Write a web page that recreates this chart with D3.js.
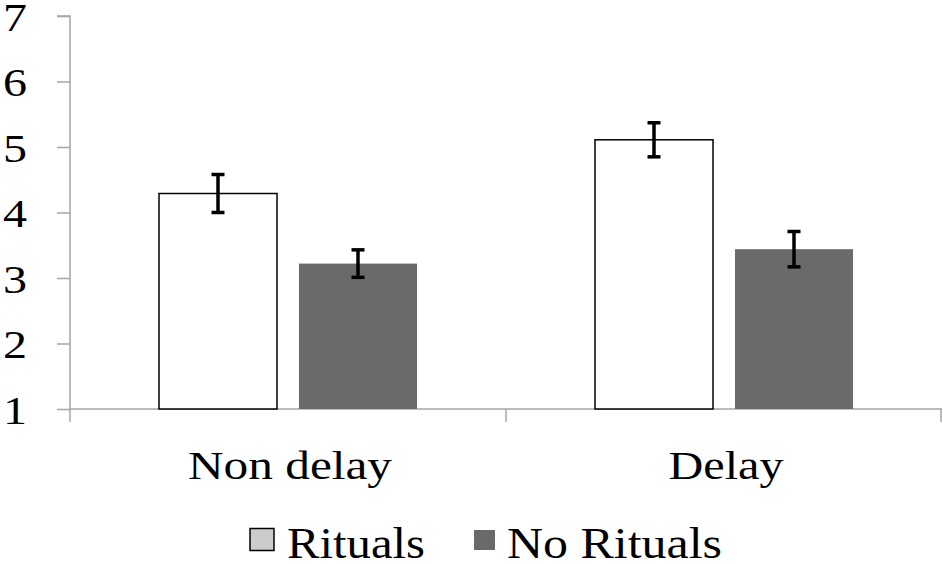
<!DOCTYPE html>
<html>
<head>
<meta charset="utf-8">
<script src="https://cdn.jsdelivr.net/npm/d3@7"></script>
<style>
  body { margin: 0; background: #fff; }
  svg text { font-family: "Liberation Serif"; fill: #000; }
</style>
</head>
<body>
<div id="chart"></div>
<script>
// data
const categories = ["Non delay", "Delay"];
const series = ["Rituals", "No Rituals"];
const ritualsMeans = [4.29, 5.11];
const ritualsErr = [0.29, 0.26];
const noRitualsMeans = [3.22, 3.44];
const noRitualsErr = [0.21, 0.27];
const yTicks = [1, 2, 3, 4, 5, 6, 7];

const seriesFill = {"Rituals": "#ffffff", "No Rituals": "#6a6a6a"};
const legendFill = {"Rituals": "#cccccc", "No Rituals": "#6a6a6a"};

const W = 943, H = 564;
const svg = d3.select("#chart").append("svg")
    .attr("width", W)
    .attr("height", H);

// scales
const y = d3.scaleLinear().domain([1, 7]).range([409, 16]);
const x0 = d3.scaleBand().domain(categories).range([70, 942]).padding(0);
const x1 = d3.scaleBand().domain(series).range([89, 347]).paddingInner(0.157);

const rows = [];
categories.forEach((c, i) => {
    rows.push({cat: c, s: "Rituals", v: ritualsMeans[i], e: ritualsErr[i]});
    rows.push({cat: c, s: "No Rituals", v: noRitualsMeans[i], e: noRitualsErr[i]});
});

// y axis
const yAxis = svg.append("g")
    .attr("transform", "translate(70,0)")
    .call(d3.axisLeft(y).tickValues(yTicks).tickSize(13).tickPadding(30).tickFormat(d3.format("d")));
yAxis.select(".domain").attr("stroke", "#a6a6a6").attr("stroke-width", 1.5)
    .attr("d", `M-13,${y(7)}H0V422`);
yAxis.selectAll(".tick line").attr("stroke", "#a6a6a6").attr("stroke-width", 1.5);
yAxis.selectAll(".tick text")
    .attr("font-size", 40)
    .attr("textLength", 24)
    .attr("lengthAdjust", "spacingAndGlyphs")
    .attr("dy", "0.36em");

// x axis line and band edge ticks
const xAxis = svg.append("g");
xAxis.append("line")
    .attr("x1", 70).attr("x2", 942)
    .attr("y1", y(1)).attr("y2", y(1))
    .attr("stroke", "#a6a6a6").attr("stroke-width", 1.5);
const edges = categories.map(c => x0(c)).concat([x0(categories[categories.length - 1]) + x0.bandwidth() - 1]);
xAxis.selectAll(".edge")
    .data(edges.slice(1))
    .join("line")
    .attr("x1", d => d).attr("x2", d => d)
    .attr("y1", y(1)).attr("y2", 422)
    .attr("stroke", "#a6a6a6").attr("stroke-width", 1.5);

// category labels
svg.selectAll(".cat")
    .data(categories)
    .join("text")
    .attr("x", d => x0(d) + x0.bandwidth() / 2 + 2)
    .attr("y", 479)
    .attr("text-anchor", "middle")
    .attr("font-size", 40)
    .attr("textLength", d => d === "Non delay" ? 204 : 115)
    .attr("lengthAdjust", "spacingAndGlyphs")
    .text(d => d);

// bars
svg.selectAll(".bar")
    .data(rows)
    .join("rect")
    .attr("x", d => x0(d.cat) + x1(d.s))
    .attr("y", d => y(d.v))
    .attr("width", x1.bandwidth())
    .attr("height", d => y(1) - y(d.v))
    .attr("fill", d => seriesFill[d.s])
    .attr("stroke", d => d.s === "Rituals" ? "#000" : "none")
    .attr("stroke-width", 1.5);

// error bars
const err = svg.selectAll(".err")
    .data(rows)
    .join("g")
    .attr("transform", d => `translate(${x0(d.cat) + x1(d.s) + x1.bandwidth() / 2},0)`);
err.append("line")
    .attr("y1", d => y(d.v + d.e)).attr("y2", d => y(d.v - d.e))
    .attr("stroke", "#000").attr("stroke-width", 3.5);
err.selectAll(".cap")
    .data(d => [d.v + d.e, d.v - d.e])
    .join("line")
    .attr("x1", -6.5).attr("x2", 6.5)
    .attr("y1", d => y(d)).attr("y2", d => y(d))
    .attr("stroke", "#000").attr("stroke-width", 3.5);

// legend
const legendPos = [{sx: 250, tx: 287, tw: 138}, {sx: 474, tx: 507, tw: 215}];
const leg = svg.selectAll(".leg")
    .data(series)
    .join("g");
leg.append("rect")
    .attr("x", (d, i) => legendPos[i].sx)
    .attr("y", (d, i) => i === 0 ? 528.5 : 530)
    .attr("width", (d, i) => i === 0 ? 24 : 21)
    .attr("height", (d, i) => i === 0 ? 22 : 20)
    .attr("fill", d => legendFill[d])
    .attr("stroke", d => d === "Rituals" ? "#000" : "none")
    .attr("stroke-width", 1.5);
leg.append("text")
    .attr("x", (d, i) => legendPos[i].tx)
    .attr("y", 558)
    .attr("font-size", 44)
    .attr("textLength", (d, i) => legendPos[i].tw)
    .attr("lengthAdjust", "spacingAndGlyphs")
    .text(d => d);
</script>
</body>
</html>
